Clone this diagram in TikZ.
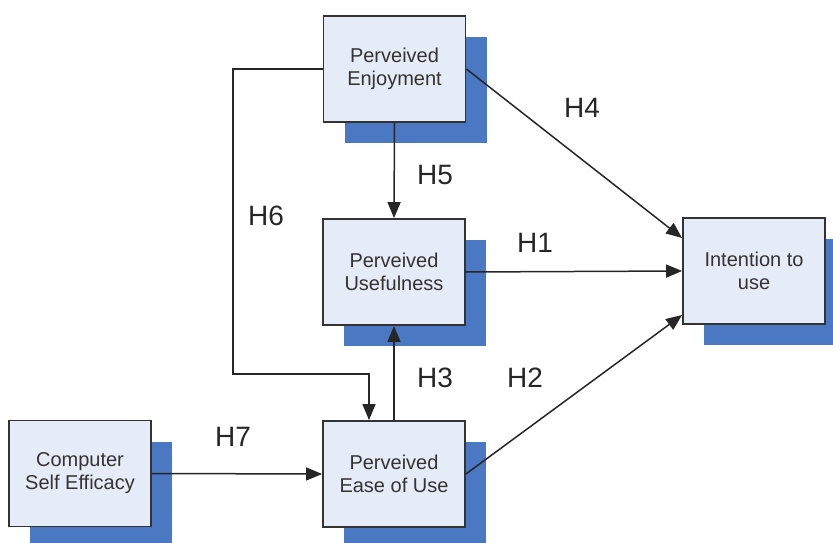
\documentclass[tikz,border=0pt]{standalone}
\usepackage{fontspec}
\setmainfont{Liberation Sans}
\usetikzlibrary{arrows.meta,shadows,calc}
\definecolor{boxfill}{HTML}{E6ECF7}
\definecolor{shadowblue}{HTML}{4A78C2}
\definecolor{boxline}{HTML}{333333}
\definecolor{txt}{HTML}{333333}
\begin{document}
\begin{tikzpicture}[x=1pt,y=-1pt,
  box/.style={draw=boxline,line width=1.8pt,fill=boxfill,minimum width=142pt,minimum height=106pt,
    align=center,text=txt,font=\fontsize{20}{23}\selectfont,inner sep=0pt,
    drop shadow={shadow xshift=21pt,shadow yshift=-21pt,fill=shadowblue,opacity=1}},
  arr/.style={draw=black!85,line width=1.5pt,-{Triangle[length=16pt,width=13pt]}},
  hlab/.style={font=\fontsize{28}{30}\selectfont,text=black!85,inner sep=0pt}]
\useasboundingbox (0,0) rectangle (833,543);
\node[box] (enj) at (394.5,69) {Perveived\\Enjoyment};
\node[box] (use) at (394,272) {Perveived\\Usefulness};
\node[box] (ease) at (394,474) {Perveived\\Ease of Use};
\node[box] (cse) at (80,473.5) {Computer\\Self Efficacy};
\node[box] (int) at (754,271) {Intention to\\use};
\coordinate (h6c) at (233,374);
\draw[arr] (enj.west) -| (h6c) -| ([xshift=-25pt]ease.north);
\draw[arr] (enj.south) -- (use.north);
\draw[arr] (ease.north) -- (use.south);
\draw[arr] (enj.east) -- ([yshift=33pt]int.west);
\draw[arr] (use.east) -- (int.west);
\draw[arr] (ease.east) -- ([yshift=-44pt]int.west);
\draw[arr] (cse.east) -- (ease.west);
\node[hlab] (h4) at (582,108) {H4};
\node[hlab] (h5) at (435,175) {H5};
\node[hlab] (h6) at (266,216) {H6};
\node[hlab] (h1) at (535,243) {H1};
\node[hlab] (h3) at (435,378) {H3};
\node[hlab] (h2) at (525,378) {H2};
\node[hlab] (h7) at (233,437) {H7};
\end{tikzpicture}
\end{document}
